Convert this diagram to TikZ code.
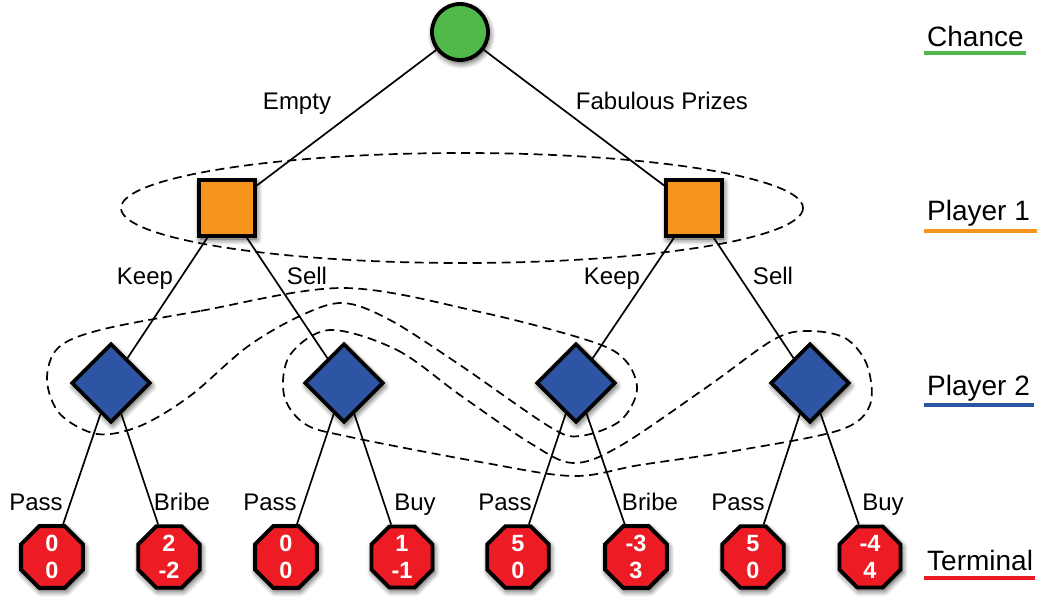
\documentclass[tikz,border=0pt]{standalone}
\usepackage{fontspec}
\setmainfont{Liberation Sans}
\usetikzlibrary{shapes.geometric,shadows.blur}

\definecolor{chanceGreen}{RGB}{80,184,72}
\definecolor{playerOrange}{RGB}{247,148,30}
\definecolor{playerBlue}{RGB}{46,84,164}
\definecolor{termRed}{RGB}{237,28,36}

\tikzset{
  gnode/.style={draw=black, line width=3.8pt, inner sep=0pt,
    blur shadow={shadow xshift=1.5pt, shadow yshift=-3pt,
      shadow blur radius=6pt, shadow blur steps=8, shadow opacity=75}},
  chancenode/.style={gnode, circle, fill=chanceGreen, minimum size=56pt},
  p1node/.style={gnode, rectangle, fill=playerOrange, minimum size=56pt},
  p2node/.style={gnode, diamond, aspect=1, fill=playerBlue, minimum size=79pt},
  termnode/.style={gnode, regular polygon, regular polygon sides=8,
    fill=termRed, minimum size=62pt, text=white, align=center,
    font=\fontsize{23.5}{27}\selectfont\bfseries},
  move/.style={line width=1.7pt},
  moveLabel/.style={font=\fontsize{24}{28}\selectfont, anchor=base, inner sep=0pt},
  infoset/.style={line width=1.7pt, dash pattern=on 9pt off 5.5pt},
  legendText/.style={font=\fontsize{28}{32}\selectfont, anchor=base west, inner sep=0pt},
  legendRule/.style={line width=3.8pt},
}

\begin{document}
\begin{tikzpicture}[x=1pt, y=-1pt]
\useasboundingbox (0,0) rectangle (1037,599);

% decision nodes
\node[chancenode] (chance) at (460,32) {};
\node[p1node] (sE) at (227,208) {};
\node[p1node] (sF) at (694,208) {};
\node[p2node] (dEK) at (111,383) {};
\node[p2node] (dES) at (344,383) {};
\node[p2node] (dFK) at (576,383) {};
\node[p2node] (dFS) at (810,383) {};

% terminal payoffs
\node[termnode] (t1) at (52,557)  {0\\0};
\node[termnode] (t2) at (169,557) {2\\-2};
\node[termnode] (t3) at (286,557) {0\\0};
\node[termnode] (t4) at (402,557) {1\\-1};
\node[termnode] (t5) at (518,557) {5\\0};
\node[termnode] (t6) at (636,557) {-3\\3};
\node[termnode] (t7) at (753,557) {5\\0};
\node[termnode] (t8) at (870,557) {-4\\4};

% moves
\draw[move] (chance) -- (sE);
\draw[move] (chance) -- (sF);
\draw[move] (sE) -- (dEK);
\draw[move] (sE) -- (dES);
\draw[move] (sF) -- (dFK);
\draw[move] (sF) -- (dFS);
\draw[move] (dEK) -- (t1);
\draw[move] (dEK) -- (t2);
\draw[move] (dES) -- (t3);
\draw[move] (dES) -- (t4);
\draw[move] (dFK) -- (t5);
\draw[move] (dFK) -- (t6);
\draw[move] (dFS) -- (t7);
\draw[move] (dFS) -- (t8);

% move labels
\node[moveLabel] (lEmpty) at (297,110) {Empty};
\node[moveLabel] (lPrizes) at (662,110) {Fabulous Prizes};
\node[moveLabel] (lKeepE) at (145,284) {Keep};
\node[moveLabel] (lSellE) at (307,284) {Sell};
\node[moveLabel] (lKeepF) at (612,284) {Keep};
\node[moveLabel] (lSellF) at (773,284) {Sell};
\node[moveLabel] (lP1) at (36,510)  {Pass};
\node[moveLabel] (lB1) at (182,510) {Bribe};
\node[moveLabel] (lP2) at (270,510) {Pass};
\node[moveLabel] (lY2) at (415,510) {Buy};
\node[moveLabel] (lP3) at (505,510) {Pass};
\node[moveLabel] (lB3) at (650,510) {Bribe};
\node[moveLabel] (lP4) at (738,510) {Pass};
\node[moveLabel] (lY4) at (883,510) {Buy};

% information sets
\draw[infoset] (462,208) ellipse [x radius=341, y radius=55];
\draw[infoset] plot[smooth cycle, tension=0.55] coordinates {
  (343,288) (200,311) (100,330) (58,348) (47,380) (60,414) (97,434)
  (140,426) (190,396) (247,347) (300,316) (343,303) (390,320) (460,365)
  (550,427) (580,436) (620,421) (637,390) (625,360) (590,341) (480,312)};
\draw[infoset] plot[smooth cycle, tension=0.55] coordinates {
  (330,330) (397,350) (460,395) (530,443) (573,463) (620,446) (707,387)
  (773,340) (807,331) (845,338) (867,365) (870,405) (840,430) (740,450)
  (640,465) (573,476) (480,462) (350,437) (305,424) (284,395) (290,355)};

% legend
\node[legendText] (gChance) at (927,47)  {Chance};
\node[legendText] (gP1)     at (927,221) {Player 1};
\node[legendText] (gP2)     at (927,395) {Player 2};
\node[legendText] (gTerm)   at (927,570) {Terminal};
\draw[legendRule, chanceGreen]  ([xshift=-3pt,yshift=-6pt]gChance.base west) -- ([xshift=2pt,yshift=-6pt]gChance.base east);
\draw[legendRule, playerOrange] ([xshift=-3pt,yshift=-10pt]gP1.base west) -- ([xshift=8pt,yshift=-10pt]gP1.base east);
\draw[legendRule, playerBlue]   ([xshift=-3pt,yshift=-10pt]gP2.base west) -- ([xshift=4pt,yshift=-10pt]gP2.base east);
\draw[legendRule, termRed]      ([xshift=-3pt,yshift=-8pt]gTerm.base west) -- ([xshift=2pt,yshift=-8pt]gTerm.base east);
\end{tikzpicture}
\end{document}
